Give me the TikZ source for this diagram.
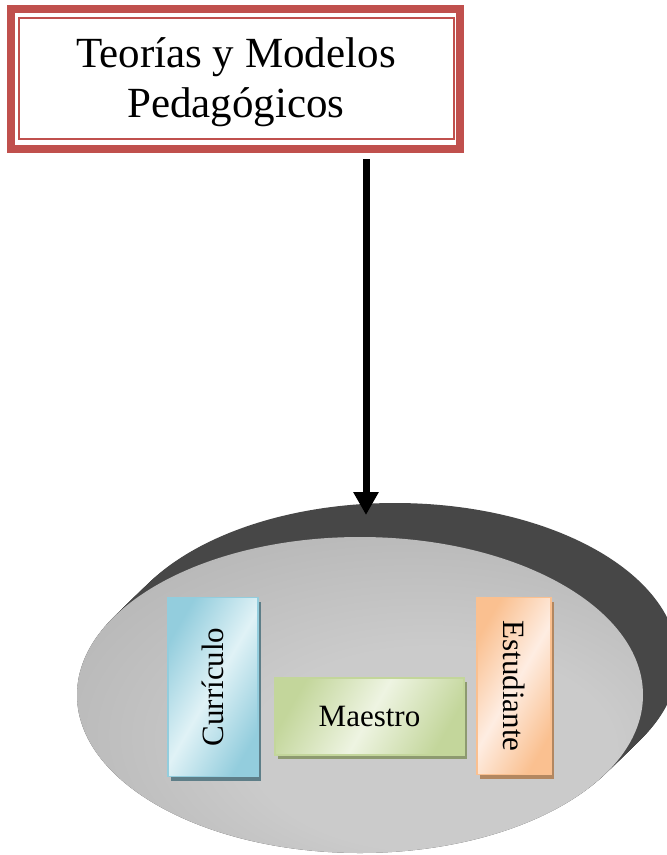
\documentclass[tikz,border=0pt]{standalone}
\usepackage{fontspec}
\setmainfont{Liberation Serif}
\usepackage{graphicx}
\usetikzlibrary{arrows.meta,shadows,shapes.geometric,calc}

\definecolor{framered}{HTML}{C0504D}
\definecolor{diskshadow}{HTML}{474747}
\definecolor{diskinner}{HTML}{CBCBCB}
\definecolor{diskmid}{HTML}{B4B4B4}
\definecolor{diskouter}{HTML}{767676}
\definecolor{aquaedge}{HTML}{93CDDD}
\definecolor{aqualight}{HTML}{E0F2F6}
\definecolor{aquashadow}{HTML}{5E7E88}
\definecolor{greenedge}{HTML}{C3D69B}
\definecolor{greenlight}{HTML}{EEF4E2}
\definecolor{greenshadow}{HTML}{8D9A70}
\definecolor{orangeedge}{HTML}{FAC090}
\definecolor{orangelight}{HTML}{FEEDE2}
\definecolor{orangeshadow}{HTML}{B38760}

% soft radial fill for the disk, brightest a little below and right of centre
\pgfdeclareradialshading{diskfill}{\pgfpoint{9bp}{-12bp}}{%
  color(0bp)=(diskinner); color(16bp)=(diskinner); color(36bp)=(diskmid);
  color(56bp)=(diskouter)}

\tikzset{
  titlebox/.style={draw=framered, line width=2, minimum width=435, minimum height=121,
    inner sep=0},
  titletext/.style={inner sep=0, align=center, font=\fontsize{43}{50}\selectfont},
  panel/.style={line width=1.5, inner sep=0, font=\fontsize{31}{36}\selectfont},
  aquapanel/.style={panel, draw=aquaedge, left color=aquaedge, right color=aquaedge,
    middle color=aqualight, shading angle=60,
    drop shadow={fill=aquashadow, opacity=1, shadow xshift=3pt, shadow yshift=-4pt}},
  greenpanel/.style={panel, draw=greenedge, left color=greenedge, right color=greenedge,
    middle color=greenlight, shading angle=60,
    drop shadow={fill=greenshadow, opacity=1, shadow xshift=3pt, shadow yshift=-4pt}},
  orangepanel/.style={panel, draw=orangeedge, left color=orangeedge, right color=orangeedge,
    middle color=orangelight, shading angle=60,
    drop shadow={fill=orangeshadow, opacity=1, shadow xshift=3pt, shadow yshift=-4pt}},
  bigarrow/.style={line width=7, -{Triangle[width=24pt,length=23pt]}}
}

\begin{document}
\begin{tikzpicture}[x=1pt,y=-1pt]
\useasboundingbox (0,0) rectangle (667,855);
\clip (0,0) rectangle (667,855);

% title with its double frame
\node[titlebox] (title) at (236,78.5) {};
\draw[framered, line width=8]
  ($(title.north west)+(-6.5,-8)$) rectangle ($(title.south east)+(5.5,8.5)$);
\node[titletext] (titletext) at ($(title.center)+(0,4)$) {Teorías y Modelos\\Pedagógicos};

% extruded dark rim behind the disk
\foreach \t in {0,0.04,...,1.001}
  \fill[diskshadow] (360+35*\t,695-34*\t) ellipse [x radius=283, y radius=158];

% the disk
\node[ellipse, minimum width=566, minimum height=316, inner sep=0, shading=diskfill]
  (disk) at (360,695) {};

% arrow from the title down to the disk
\coordinate (arrowtop) at (366,159);
\coordinate (arrowtip) at (366,515);
\draw[bigarrow] (arrowtop) -- (arrowtip);

% the three panels on the disk
\node[aquapanel, minimum width=90, minimum height=179] (curr) at (213,687)
  {\rotatebox{90}{Currículo}};
\node[greenpanel, minimum width=189, minimum height=77] (maestro) at (369.5,716.5)
  {Maestro};
\node[orangepanel, minimum width=74, minimum height=177] (est) at (514,686)
  {\rotatebox{-90}{Estudiante}};
\end{tikzpicture}
\end{document}
